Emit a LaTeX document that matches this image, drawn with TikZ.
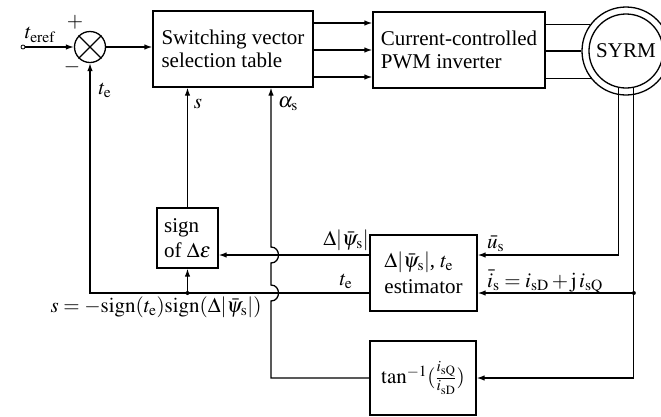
\documentclass[tikz,border=0pt]{standalone}
\usepackage{mathptmx}
\usepackage[no-math]{fontspec}
\setmainfont{Liberation Serif}
\usetikzlibrary{arrows.meta}
\begin{document}
\begin{tikzpicture}[x=1pt,y=-1pt,
  every node/.style={font=\fontsize{21}{23}\selectfont, inner sep=0pt},
  ln/.style={line width=1.3pt},
  box/.style={draw, ln, align=left},
  arr/.style={ln, -{Latex[length=8pt,width=5.5pt]}},
  dot/.style={fill, circle, minimum size=4pt}
]
\useasboundingbox (0,0) rectangle (661,416);

% blocks
\node[box, minimum width=160pt, minimum height=76pt] (sw) at (233,49) {Switching vector\\selection table};
\node[box, minimum width=172pt, minimum height=76pt] (pwm) at (459,50) {Current-controlled\\PWM inverter};
\node[draw, ln, circle, minimum size=88pt] (motor) at (626,51) {};
\node[draw, ln, circle, minimum size=74pt] (motorin) at (626,51) {SYRM};
\node[box, minimum width=61pt, minimum height=60pt] (sign) at (187.5,238) {sign\\[2pt]of $\Delta\varepsilon$};
\node[box, minimum width=107pt, minimum height=76pt] (est) at (423.5,273) {$\Delta|\bar\psi_{\mathrm{s}}|$, $t_{\mathrm{e}}$\\[3pt]estimator};
\node[box, minimum width=106pt, minimum height=74pt] (tan) at (423,378) {$\tan^{-1}(\frac{i_{\mathrm{sQ}}}{i_{\mathrm{sD}}})$};

% summing junction
\node[draw, ln, circle, minimum size=31pt] (sum) at (90,47) {};
\draw[ln] (sum.north west) -- (sum.south east) (sum.north east) -- (sum.south west);
\node[draw, circle, minimum size=4pt, line width=0.8pt] (in) at (23,47) {};

% helper coordinates
\coordinate (eA) at ([yshift=18pt]est.east);
\coordinate (eB) at ([yshift=-20pt]est.east);
\coordinate (wA) at ([yshift=18pt]est.west);
\coordinate (wB) at ([yshift=-20pt]est.west);
\coordinate (aT) at ([xshift=38pt]sw.south);
\coordinate (h1) at (aT |- wB);
\coordinate (h2) at (aT |- wA);
\coordinate (j1) at (motorin.282 |- eB);
\coordinate (j2) at (sign.south |- wB);

% forward path
\draw[arr] (in) -- (sum);
\draw[arr] (sum.east) -- (sum.east -| sw.west);
\foreach \yy in {23,50,77} \draw[arr] (sw.east |- 0,\yy) -- (pwm.west |- 0,\yy);
\draw[ln] (pwm.east |- motor.144) -- (motor.144);
\draw[ln] (pwm.east |- motor.180) -- (motor.180);
\draw[ln] (pwm.east |- motor.218) -- (motor.218);

% measurements
\draw[arr] (motorin.258) |- (eA);
\draw[arr] (motorin.282) |- (tan.east);
\draw[arr] (j1) -- (eB);
\fill (j1) circle (2);

% estimator outputs
\draw[arr] (wA) -- (wA -| sign.east);
\draw[arr] (wB) -| (sum.south);
\draw[arr] (j2) -- (sign.south);
\fill (j2) circle (2);
\draw[arr] (sign.north) -- (sign.north |- sw.south);

% alpha_s path with hops
\draw[arr] (tan.west) -- (tan.west -| aT) -- ([yshift=-8pt]h1)
  to[out=0,in=0,looseness=1.6] ([yshift=8pt]h1) -- ([yshift=-8pt]h2)
  to[out=0,in=0,looseness=1.6] ([yshift=8pt]h2) -- (aT);

% labels
\node (lref) at (40,35) {$t_{\mathrm{eref}}$};
\node (lplus) at (75,22) {$+$};
\node (lminus) at (72,67) {$-$};
\node (lte1) at (105,90) {$t_{\mathrm{e}}$};
\node (ls) at (198,104) {$s$};
\node (lal) at (288,104) {$\alpha_{\mathrm{s}}$};
\node[anchor=base] (ldpsi) at (346,245) {$\Delta|\bar\psi_{\mathrm{s}}|$};
\node[anchor=base] (lte2) at (346,285) {$t_{\mathrm{e}}$};
\node[anchor=base west] (lus) at (487,248) {$\bar u_{\mathrm{s}}$};
\node[anchor=base west] (lis) at (487,287) {$\bar i_{\mathrm{s}} = i_{\mathrm{sD}} + \mathrm{j}\,i_{\mathrm{sQ}}$};
\node[anchor=base] (lsf) at (156,312) {$s = -\mathrm{sign}(t_{\mathrm{e}})\mathrm{sign}(\Delta|\bar\psi_{\mathrm{s}}|)$};
\end{tikzpicture}
\end{document}
